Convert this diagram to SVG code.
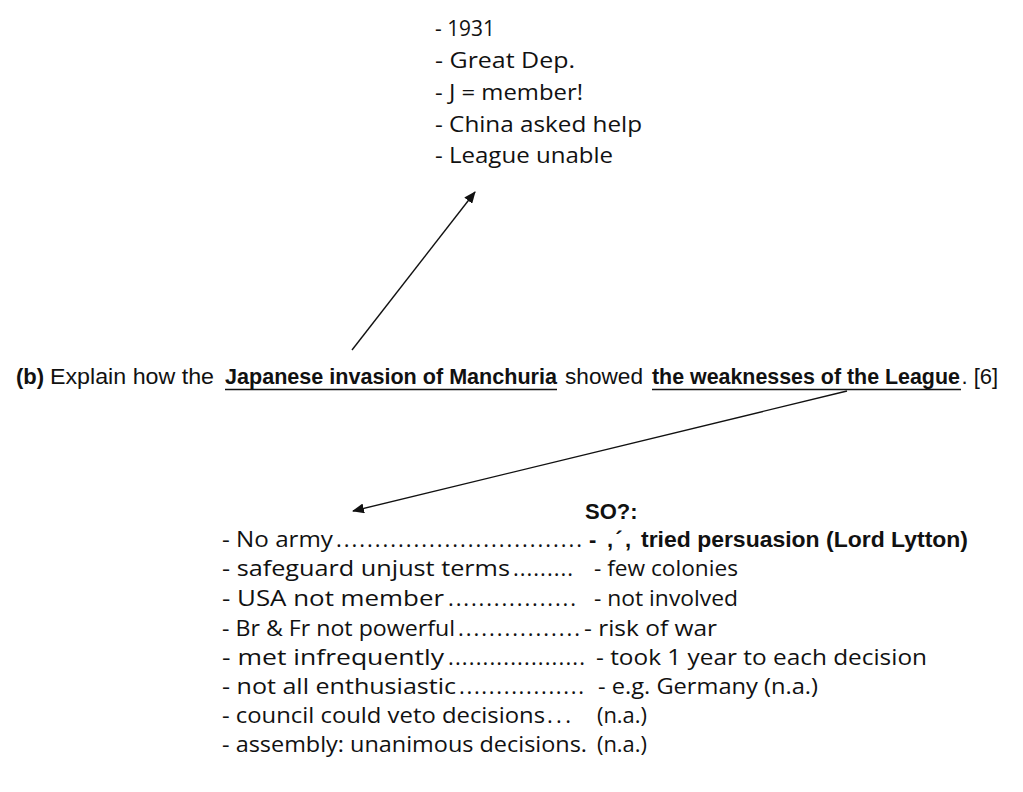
<svg xmlns="http://www.w3.org/2000/svg" width="1023" height="792" viewBox="0 0 1023 792">
<style>
  .hand { font-family: "Open Sans", "Noto Sans", sans-serif; font-size: 22px; fill: #111; }
  .arial { font-family: "Liberation Sans", Arial, sans-serif; font-size: 22px; fill: #111; }
  .b { font-weight: bold; }
  .ul { stroke: #111; stroke-width: 1.6; }
  .conn { stroke: #111; stroke-width: 1.4; fill: none; marker-end: url(#arrow); }
</style>
<defs>
  <marker id="arrow" viewBox="0 0 12 10" refX="11" refY="5" markerWidth="12" markerHeight="10" markerUnits="userSpaceOnUse" orient="auto">
    <path d="M0,0 L12,5 L0,10 Z" fill="#111"/>
  </marker>
</defs>
<rect width="1023" height="792" fill="#fff"/>

<g id="context-notes">
  <text class="hand" x="435" y="36" textLength="60" lengthAdjust="spacingAndGlyphs">- 1931</text>
  <text class="hand" x="435" y="68" textLength="140" lengthAdjust="spacingAndGlyphs">- Great Dep.</text>
  <text class="hand" x="435" y="100" textLength="148" lengthAdjust="spacingAndGlyphs">- J = member!</text>
  <text class="hand" x="435" y="132" textLength="207" lengthAdjust="spacingAndGlyphs">- China asked help</text>
  <text class="hand" x="435" y="163" textLength="178" lengthAdjust="spacingAndGlyphs">- League unable</text>
</g>

<g id="question">
  <text class="arial b" x="16" y="384">(b)</text>
  <text class="arial" x="50" y="384" textLength="164" lengthAdjust="spacingAndGlyphs">Explain how the</text>
  <text class="arial b" x="225" y="384" textLength="332" lengthAdjust="spacingAndGlyphs">Japanese invasion of Manchuria</text>
  <line class="ul" x1="225" y1="389.5" x2="557" y2="389.5"/>
  <text class="arial" x="565" y="384" textLength="78" lengthAdjust="spacingAndGlyphs">showed</text>
  <text class="arial b" x="652" y="384" style="font-size:21.4px">the weaknesses of the League</text>
  <line class="ul" x1="652" y1="389.5" x2="961" y2="389.5"/>
  <text class="arial" x="961.5" y="384">. [6]</text>
</g>

<g id="weakness-notes">
  <text class="arial b" x="585" y="519">SO?:</text>

  <text class="hand" x="222" y="547" textLength="111" lengthAdjust="spacingAndGlyphs">- No army</text>
  <text class="hand" x="336" y="547" textLength="246" lengthAdjust="spacing">................................</text>
  <text class="arial b" x="589" y="547" textLength="42" lengthAdjust="spacing">- ,´,</text>
  <text class="arial b" x="641" y="547" textLength="327" lengthAdjust="spacingAndGlyphs">tried persuasion (Lord Lytton)</text>

  <text class="hand" x="222" y="576" textLength="288" lengthAdjust="spacingAndGlyphs">- safeguard unjust terms</text>
  <text class="hand" x="513" y="576" textLength="60" lengthAdjust="spacing">.........</text>
  <text class="hand" x="594" y="576" textLength="144" lengthAdjust="spacingAndGlyphs">- few colonies</text>

  <text class="hand" x="222" y="606" textLength="222" lengthAdjust="spacingAndGlyphs">- USA not member</text>
  <text class="hand" x="448" y="606" textLength="128" lengthAdjust="spacing">.................</text>
  <text class="hand" x="594" y="606" textLength="144" lengthAdjust="spacingAndGlyphs">- not involved</text>

  <text class="hand" x="222" y="636" textLength="233" lengthAdjust="spacingAndGlyphs">- Br &amp; Fr not powerful</text>
  <text class="hand" x="458" y="636" textLength="122" lengthAdjust="spacing">................</text>
  <text class="hand" x="584" y="636" textLength="133" lengthAdjust="spacingAndGlyphs">- risk of war</text>

  <text class="hand" x="222" y="665" textLength="222" lengthAdjust="spacingAndGlyphs">- met infrequently</text>
  <text class="hand" x="448" y="665" textLength="137" lengthAdjust="spacing">....................</text>
  <text class="hand" x="596" y="665" textLength="331" lengthAdjust="spacingAndGlyphs">- took 1 year to each decision</text>

  <text class="hand" x="222" y="694" textLength="234" lengthAdjust="spacingAndGlyphs">- not all enthusiastic</text>
  <text class="hand" x="459" y="694" textLength="125" lengthAdjust="spacing">.................</text>
  <text class="hand" x="598" y="694" textLength="220" lengthAdjust="spacingAndGlyphs">- e.g. Germany (n.a.)</text>

  <text class="hand" x="222" y="723" textLength="323" lengthAdjust="spacingAndGlyphs">- council could veto decisions</text>
  <text class="hand" x="547" y="723" textLength="24" lengthAdjust="spacing">...</text>
  <text class="hand" x="597" y="723" textLength="50" lengthAdjust="spacingAndGlyphs">(n.a.)</text>

  <text class="hand" x="222" y="752" textLength="365" lengthAdjust="spacingAndGlyphs">- assembly: unanimous decisions.</text>
  <text class="hand" x="597" y="752" textLength="50" lengthAdjust="spacingAndGlyphs">(n.a.)</text>
</g>

<g id="connectors">
  <line class="conn" x1="352" y1="350" x2="475" y2="192"/>
  <line class="conn" x1="847" y1="391" x2="353" y2="511"/>
</g>
</svg>
